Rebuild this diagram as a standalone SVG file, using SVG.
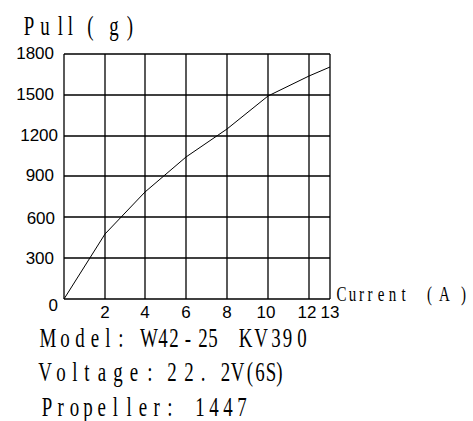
<svg xmlns="http://www.w3.org/2000/svg" width="473" height="421" viewBox="0 0 473 421">
<style>
.grid line{stroke:#000;stroke-width:1.3;fill:none}
.curve{stroke:#000;stroke-width:1;fill:none}
.num{font-family:"Liberation Sans",Arial,sans-serif;font-size:17px;fill:#000}
.ser{font-family:"Liberation Serif","Times New Roman",serif;fill:#000}
</style>
<rect width="473" height="421" fill="#fff"/>
<g id="grid" class="grid">
<line x1="64" y1="54" x2="330" y2="54"/>
<line x1="64" y1="95" x2="330" y2="95"/>
<line x1="64" y1="136" x2="330" y2="136"/>
<line x1="64" y1="176" x2="330" y2="176"/>
<line x1="64" y1="217" x2="330" y2="217"/>
<line x1="64" y1="258" x2="330" y2="258"/>
<line x1="64" y1="299" x2="330" y2="299"/>
<line x1="64" y1="54" x2="64" y2="299"/>
<line x1="105" y1="54" x2="105" y2="299"/>
<line x1="145" y1="54" x2="145" y2="299"/>
<line x1="186" y1="54" x2="186" y2="299"/>
<line x1="227" y1="54" x2="227" y2="299"/>
<line x1="268" y1="54" x2="268" y2="299"/>
<line x1="309" y1="54" x2="309" y2="299"/>
<line x1="330" y1="54" x2="330" y2="299"/>
</g>
<g id="curve">
<polyline class="curve" points="64,299 105,234 145,192 186,157 227,129 268,96 309,76 330,67"/>
</g>
<g id="y-labels" class="num" text-anchor="end">
<text x="54" y="58.5">1800</text>
<text x="54" y="100">1500</text>
<text x="58" y="141">1200</text>
<text x="54" y="181">900</text>
<text x="55" y="223.5">600</text>
<text x="54" y="263.5">300</text>
<text x="58" y="310.5">0</text>
</g>
<g id="x-labels" class="num" text-anchor="middle">
<text x="105" y="318">2</text>
<text x="145" y="318">4</text>
<text x="186" y="318">6</text>
<text x="227" y="318">8</text>
<text x="266" y="318">10</text>
<text x="307" y="318">12</text>
<text x="330" y="318">13</text>
</g>
<g id="axis-titles" class="ser">
<text transform="scale(0.7 1)" font-size="27" text-anchor="middle" x="41.43 64.29 86.43 100.71 114.29 129.29 162.86 185.71" y="35">Pull (g)</text>
<text transform="scale(0.75 1)" font-size="20" text-anchor="middle" x="455.33 470 482 493.33 508 523.33 538 553.33 572.67 592.67 618" y="301.5">Current (A)</text>
</g>
<g id="specs" class="ser" font-size="27">
<text transform="scale(0.7 1)" text-anchor="middle" x="68.57 92.86 114.29 135.71 154.29 172.86 192.86 212.86 232.86 248.57 268.57 290 304.29 327.14 350.71 372.86 394.29 410.71 431.43" y="347">Model: W42-25 KV390</text>
<text transform="scale(0.7 1)" text-anchor="middle" x="64.29 87.14 107.14 124.29 145.71 168.57 191.43 214.29 230 245.71 270 290 322.14 339.29 357.14 371.43 387.14 399.29" y="381">Voltage: 22.2V(6S)</text>
<text transform="scale(0.7 1)" text-anchor="middle" x="67.14 86.71 106.29 125.86 145.43 165 184.57 204.14 223.71 242.86 264.29 285.71 305.71 325.71 345.71" y="416">Propeller: 1447</text>
</g>
</svg>
